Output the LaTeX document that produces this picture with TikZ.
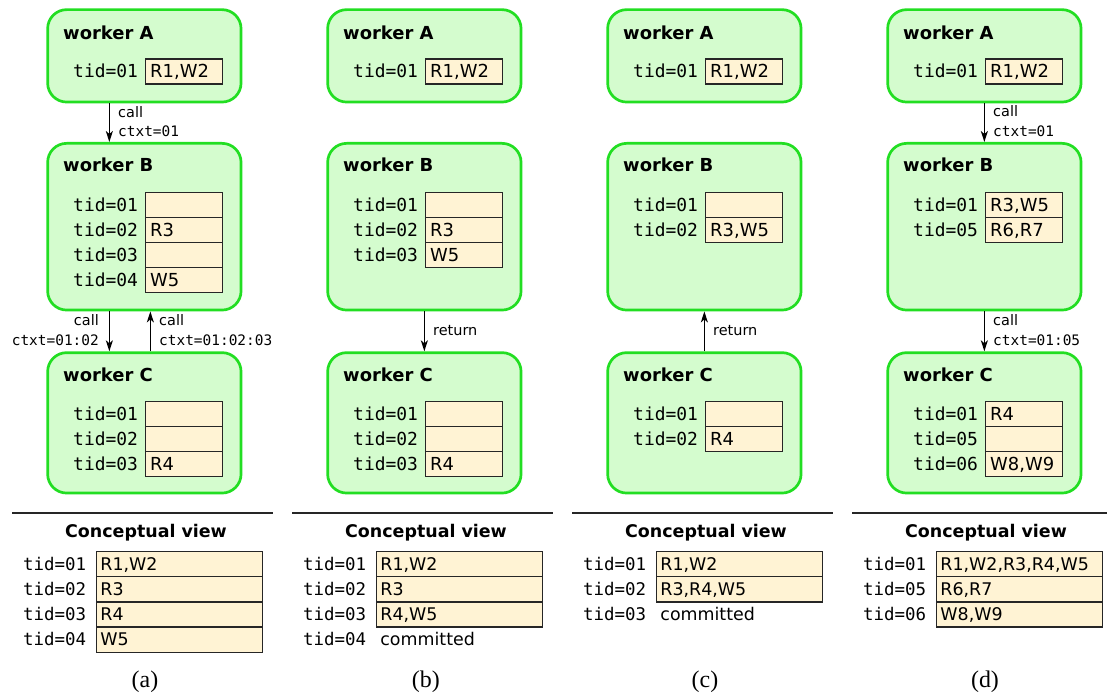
\documentclass[tikz,border=0pt]{standalone}
\usepackage{fontspec}
\usepackage{xcolor}
\usetikzlibrary{positioning,arrows.meta}
\newfontfamily\dsans{DejaVu Sans}
\newfontfamily\dmono{DejaVu Sans Mono}
\newfontfamily\capserif{Liberation Serif}
\definecolor{wfill}{RGB}{212,252,206}
\definecolor{wline}{RGB}{34,222,34}
\definecolor{cfill}{RGB}{255,243,212}
\tikzset{
  worker/.style={draw=wline, fill=wfill, line width=2.7bp, rounded corners=19bp,
    minimum width=193.4bp, anchor=north west, inner sep=0},
  wtitle/.style={anchor=west, inner sep=0, text height=13bp, text depth=0bp,
    font=\dsans\bfseries\fontsize{18}{20}\selectfont},
  cell/.style={draw=black!85, fill=cfill, line width=1.4bp, outer sep=0, anchor=north west,
    inner xsep=4.5bp, inner ysep=0, text width=67.6bp, minimum height=25bp, align=left,
    text height=13bp, text depth=0bp, font=\dsans\fontsize{18}{20}\selectfont},
  tidlab/.style={inner sep=0, text height=13bp, text depth=0bp,
    font=\dmono\fontsize{18}{20}\selectfont},
  ccell/.style={cell, inner xsep=4bp, text width=158.2bp, minimum height=25.2bp,
    text height=12.7bp, font=\dsans\fontsize{17.5}{20}\selectfont},
  ctidlab/.style={tidlab, text height=12.7bp, font=\dmono\fontsize{17.5}{20}\selectfont},
  ctitle/.style={inner sep=0, text height=12.7bp, text depth=0bp,
    font=\dsans\bfseries\fontsize{17.5}{20}\selectfont},
  lab/.style={inner sep=0, text height=10.5bp, text depth=0bp,
    font=\dsans\fontsize{14.5}{16}\selectfont},
  arr/.style={line width=1.5bp, -{Stealth[length=11bp,width=7bp,inset=3bp]}},
  sepline/.style={line width=1.4bp, black!85},
  subcap/.style={inner sep=0, font=\capserif\fontsize{24}{27}\selectfont}
}
% one row: placement, name, tid, content
\newcommand\trow[4]{\node[cell,#1] (#2) {#4};\node[tidlab,left=7.5bp of #2] (#2l) {tid=#3};}
\newcommand\crow[4]{\node[ccell,#1] (#2) {#4};\node[ctidlab,left=10bp of #2] (#2l) {tid=#3};}
\begin{document}
\begin{tikzpicture}[x=1bp, y=-1bp]
\useasboundingbox (0,0) rectangle (1107,693);

% (a)
\begin{scope}
\node[worker, minimum height=92.4bp] (aA) at (46.3,8.3) {};
\node[worker, minimum height=166.7bp] (aB) at (46.3,142) {};
\node[worker, minimum height=140.4bp] (aC) at (46.3,351.3) {};
\node[wtitle] (aAt) at (63,33) {worker A};
\node[wtitle] (aBt) at (63,165) {worker B};
\node[wtitle] (aCt) at (63,375) {worker C};
\trow{at={(145.7,59)}}{aA1}{01}{R1,W2}
\trow{at={(145.7,192.4)}}{aB1}{01}{}
\trow{below=0bp of aB1}{aB2}{02}{R3}
\trow{below=0bp of aB2}{aB3}{03}{}
\trow{below=0bp of aB3}{aB4}{04}{W5}
\trow{at={(145.7,401.4)}}{aC1}{01}{}
\trow{below=0bp of aC1}{aC2}{02}{}
\trow{below=0bp of aC2}{aC3}{03}{R4}
\draw[arr] ([xshift=-35bp]aA.south) -- ([xshift=-35bp]aB.north);
\node[lab, anchor=west] (aL1) at (118,112.3) {call};
\node[lab, anchor=west] (aL2) at (118,131.7) {\dmono ctxt=01};
\draw[arr] ([xshift=-35bp]aB.south) -- ([xshift=-35bp]aC.north);
\draw[arr] ([xshift=6bp]aC.north) -- ([xshift=6bp]aB.south);
\node[lab, anchor=east] (aL3) at (99,320.7) {call};
\node[lab, anchor=east] (aL4) at (99,340.7) {\dmono ctxt=01:02};
\node[lab, anchor=west] (aL5) at (159,320.7) {call};
\node[lab, anchor=west] (aL6) at (159,340.7) {\dmono ctxt=01:02:03};
\draw[sepline] (12,513) -- (273,513);
\node[ctitle] (aCv) at (146,531) {Conceptual view};
\crow{at={(96.4,551.4)}}{aV1}{01}{R1,W2}
\crow{below=0bp of aV1}{aV2}{02}{R3}
\crow{below=0bp of aV2}{aV3}{03}{R4}
\crow{below=0bp of aV3}{aV4}{04}{W5}
\node[subcap] (acap) at (145,682) {(a)};
\end{scope}

% (b)
\begin{scope}[xshift=280bp]
\node[worker, minimum height=92.4bp] (bA) at (46.3,8.3) {};
\node[worker, minimum height=166.7bp] (bB) at (46.3,142) {};
\node[worker, minimum height=140.4bp] (bC) at (46.3,351.3) {};
\node[wtitle] (bAt) at (63,33) {worker A};
\node[wtitle] (bBt) at (63,165) {worker B};
\node[wtitle] (bCt) at (63,375) {worker C};
\trow{at={(145.7,59)}}{bA1}{01}{R1,W2}
\trow{at={(145.7,192.4)}}{bB1}{01}{}
\trow{below=0bp of bB1}{bB2}{02}{R3}
\trow{below=0bp of bB2}{bB3}{03}{W5}
\trow{at={(145.7,401.4)}}{bC1}{01}{}
\trow{below=0bp of bC1}{bC2}{02}{}
\trow{below=0bp of bC2}{bC3}{03}{R4}
\draw[arr] (bB) -- (bC);
\node[lab, anchor=west] (bL1) at (153,330) {return};
\draw[sepline] (12,513) -- (273,513);
\node[ctitle] (bCv) at (146,531) {Conceptual view};
\crow{at={(96.4,551.4)}}{bV1}{01}{R1,W2}
\crow{below=0bp of bV1}{bV2}{02}{R3}
\crow{below=0bp of bV2}{bV3}{03}{R4,W5}
\crow{below=0bp of bV3, draw=none, fill=none}{bV4}{04}{committed}
\node[subcap] (bcap) at (145.8,682) {(b)};
\end{scope}

% (c)
\begin{scope}[xshift=560bp]
\node[worker, minimum height=92.4bp] (cA) at (46.3,8.3) {};
\node[worker, minimum height=166.7bp] (cB) at (46.3,142) {};
\node[worker, minimum height=140.4bp] (cC) at (46.3,351.3) {};
\node[wtitle] (cAt) at (63,33) {worker A};
\node[wtitle] (cBt) at (63,165) {worker B};
\node[wtitle] (cCt) at (63,375) {worker C};
\trow{at={(145.7,59)}}{cA1}{01}{R1,W2}
\trow{at={(145.7,192.4)}}{cB1}{01}{}
\trow{below=0bp of cB1}{cB2}{02}{R3,W5}
\trow{at={(145.7,401.4)}}{cC1}{01}{}
\trow{below=0bp of cC1}{cC2}{02}{R4}
\draw[arr] (cC) -- (cB);
\node[lab, anchor=west] (cL1) at (153,330) {return};
\draw[sepline] (12,513) -- (273,513);
\node[ctitle] (cCv) at (146,531) {Conceptual view};
\crow{at={(96.4,551.4)}}{cV1}{01}{R1,W2}
\crow{below=0bp of cV1}{cV2}{02}{R3,R4,W5}
\crow{below=0bp of cV2, draw=none, fill=none}{cV3}{03}{committed}
\node[subcap] (ccap) at (145,682) {(c)};
\end{scope}

% (d)
\begin{scope}[xshift=840bp]
\node[worker, minimum height=92.4bp] (dA) at (46.3,8.3) {};
\node[worker, minimum height=166.7bp] (dB) at (46.3,142) {};
\node[worker, minimum height=140.4bp] (dC) at (46.3,351.3) {};
\node[wtitle] (dAt) at (63,33) {worker A};
\node[wtitle] (dBt) at (63,165) {worker B};
\node[wtitle] (dCt) at (63,375) {worker C};
\trow{at={(145.7,59)}}{dA1}{01}{R1,W2}
\trow{at={(145.7,192.4)}}{dB1}{01}{R3,W5}
\trow{below=0bp of dB1}{dB2}{05}{R6,R7}
\trow{at={(145.7,401.4)}}{dC1}{01}{R4}
\trow{below=0bp of dC1}{dC2}{05}{}
\trow{below=0bp of dC2}{dC3}{06}{W8,W9}
\draw[arr] (dA) -- (dB);
\node[lab, anchor=west] (dL1) at (153,111.7) {call};
\node[lab, anchor=west] (dL2) at (153,131.7) {\dmono ctxt=01};
\draw[arr] (dB) -- (dC);
\node[lab, anchor=west] (dL3) at (153,320) {call};
\node[lab, anchor=west] (dL4) at (153,340) {\dmono ctxt=01:05};
\draw[sepline] (12,513) -- (267,513);
\node[ctitle] (dCv) at (146,531) {Conceptual view};
\crow{at={(96.4,551.4)}}{dV1}{01}{R1,W2,R3,R4,W5}
\crow{below=0bp of dV1}{dV2}{05}{R6,R7}
\crow{below=0bp of dV2}{dV3}{06}{W8,W9}
\node[subcap] (dcap) at (145,682) {(d)};
\end{scope}
\end{tikzpicture}
\end{document}
